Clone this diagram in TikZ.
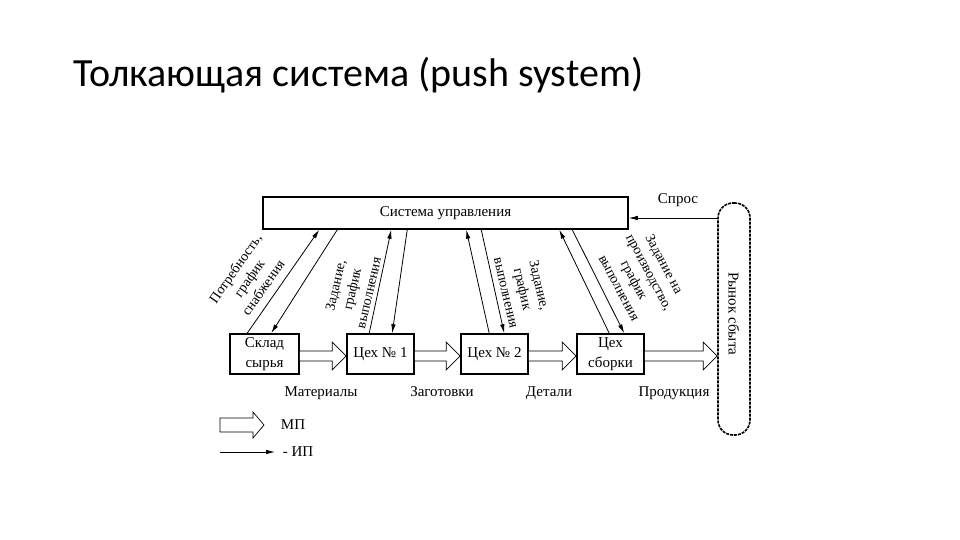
\documentclass[tikz,border=0pt]{standalone}
\usepackage{fontspec}
\setmainfont{Liberation Serif}
\newfontfamily\titlefont{Carlito}
\usetikzlibrary{arrows.meta,calc}
\newcommand\fatarrow[2]{\draw[fat] let \p1=#1, \p2=#2 in (\x1,\y1-2pt+5pt) -- (\x2-14pt,\y1-2pt+5pt) -- (\x2-14pt,\y1-2pt+14pt) -- (\x2,\y1-2pt) -- (\x2-14pt,\y1-2pt-14pt) -- (\x2-14pt,\y1-2pt-5pt) -- (\x1,\y1-2pt-5pt);}
\tikzset{
  box/.style={draw, line width=1.6pt, minimum height=40, inner sep=1pt, align=center, font=\fontsize{15}{20}\selectfont},
  ip/.style={-{Latex[length=9pt,width=4.5pt]}, line width=0.8pt},
  fat/.style={draw, fill=white, line width=0.7pt},
  lbl/.style={align=center, font=\fontsize{14}{17}\selectfont, inner sep=0pt},
  txt/.style={font=\fontsize{15}{18}\selectfont, inner sep=0pt}
}
\begin{document}
\begin{tikzpicture}[x=1pt,y=-1pt]
\useasboundingbox[fill=white] (0,0) rectangle (960,540);
\node[anchor=base west, inner sep=0pt, font=\titlefont\fontsize{40}{44}\selectfont] (title) at (73,87) {Толкающая система (push system)};

\node[draw, line width=1.5pt, minimum width=365, minimum height=32, inner sep=0pt, font=\fontsize{15}{18}\selectfont] (ctrl) at (445.5,213) {Система управления};
\node[draw, line width=1.6pt, dash pattern=on 3pt off 1pt, rounded corners=15pt, minimum width=32, minimum height=232, inner sep=0pt] (market) at (734,319) {};
\node[txt, rotate=-90] (marketlbl) at (734,314) {Рынок сбыта};

\node[box, minimum width=69] (sklad) at (264.5,354) {Склад\\сырья};
\node[box, minimum width=67] (c1) at (380.5,354) {Цех № 1};
\node[box, minimum width=67] (c2) at (494.5,354) {Цех № 2};
\node[box, minimum width=67] (cs) at (610.5,354) {Цех\\сборки};

\fatarrow{(sklad.east)}{(c1.west)}
\fatarrow{(c1.east)}{(c2.west)}
\fatarrow{(c2.east)}{(cs.west)}
\fatarrow{(cs.east)}{(market.west |- cs.east)}

\coordinate (sp) at (718,218);
\draw[ip] (sp) -- (sp -| ctrl.east);
\node[txt] (spros) at (678,200) {Спрос};

% information flows
\draw[ip] ($(sklad.north west)+(18,0)$) -- ($(ctrl.south west)+(57,0)$);
\draw[ip] ($(ctrl.south west)+(75,0)$) -- ($(sklad.north west)+(42,0)$);
\draw[ip] ($(c1.north west)+(23,0)$) -- ($(ctrl.south west)+(129,0)$);
\draw[ip] ($(ctrl.south west)+(145,0)$) -- ($(c1.north west)+(46,0)$);
\draw[ip] ($(c2.north west)+(29,0)$) -- ($(ctrl.south west)+(204,0)$);
\draw[ip] ($(ctrl.south west)+(219,0)$) -- ($(c2.north west)+(44,0)$);
\draw[ip] ($(cs.north west)+(33,0)$) -- ($(ctrl.south west)+(297,0)$);
\draw[ip] ($(ctrl.south west)+(310,0)$) -- ($(cs.north west)+(48,0)$);

\node[lbl, rotate=55] (l1) at (249,278) {Потребность,\\график\\снабжения};
\node[lbl, rotate=77] (l2) at (352,289) {Задание,\\график\\выполнения};
\node[lbl, rotate=-77] (l3) at (523,289) {Задание,\\график\\выполнения};
\node[lbl, rotate=-62] (l4) at (642,276) {Задание на\\производство,\\график\\выполнения};

\node[txt, anchor=base] (m1) at (321,396) {Материалы};
\node[txt, anchor=base] (m2) at (442,396) {Заготовки};
\node[txt, anchor=base] (m3) at (549,396) {Детали};
\node[txt, anchor=base] (m4) at (674,396) {Продукция};

% legend
\draw[fat] (220,418) -- (253,418) -- (253,412) -- (264,425) -- (253,438) -- (253,432) -- (220,432) -- cycle;
\node[txt] (mp) at (293,425) {МП};
\coordinate (ipa) at (220,452);
\coordinate (ipb) at (275,452);
\draw[ip] (ipa) -- (ipb);
\node[txt] (ipl) at (298,452) {- ИП};
\end{tikzpicture}
\end{document}
